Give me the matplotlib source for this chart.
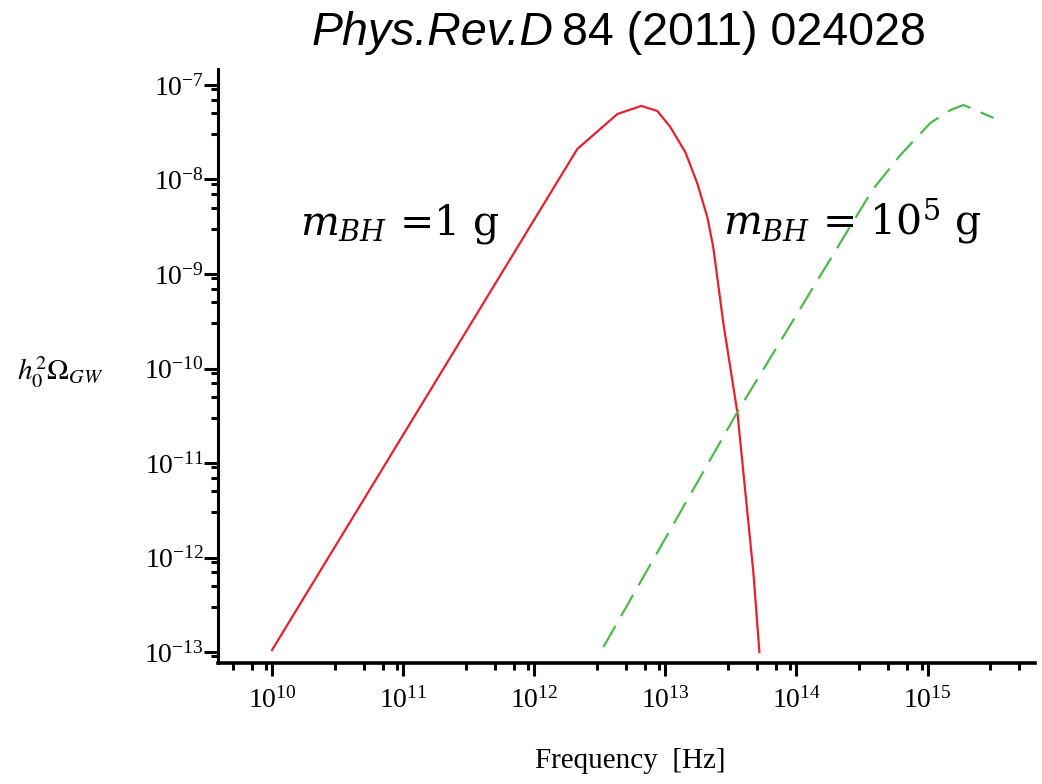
import matplotlib
matplotlib.use('Agg')
import matplotlib.pyplot as plt
import matplotlib.ticker as mticker

# values
freq_1g = [1.0e10, 2.13e12, 4.31e12, 6.56e12, 8.69e12, 1.09e13, 1.42e13, 1.75e13,
           2.09e13, 2.32e13, 2.77e13, 3.55e13, 4.23e13, 4.70e13, 5.22e13]
omega_1g = [1.05e-13, 2.10e-8, 4.93e-8, 6.0e-8, 5.31e-8, 3.60e-8, 1.95e-8, 9.18e-9,
            4.01e-9, 1.93e-9, 3.03e-10, 3.38e-11, 2.96e-12, 6.85e-13, 1.0e-13]

freq_1e5g = [3.37e12, 3.55e13, 3.80e14, 6.22e14, 1.05e15, 1.50e15, 1.88e15, 3.19e15]
omega_1e5g = [1.13e-13, 3.47e-11, 7.74e-9, 1.82e-8, 3.96e-8, 5.43e-8, 6.14e-8, 4.48e-8]

plt.rcParams['font.family'] = ['Liberation Serif', 'DejaVu Serif']
plt.rcParams['mathtext.fontset'] = 'stix'

fig = plt.figure(figsize=(10.42, 7.84), dpi=100)
ax = fig.add_axes([218 / 1042, 1 - 663 / 784, (1035 - 218) / 1042, (663 - 69) / 784])

ax.plot(freq_1g, omega_1g, '-', color='#e8202e', lw=1.6)
ax.plot(freq_1e5g, omega_1e5g, '--', color='#4cbb4c', lw=1.6, dashes=(11, 5))

ax.set_xscale('log')
ax.set_yscale('log')
ax.set_xlim(10 ** 9.588, 10 ** 15.82)
ax.set_ylim(10 ** -13.116, 10 ** -6.831)

ax.spines['top'].set_visible(False)
ax.spines['right'].set_visible(False)
ax.spines['left'].set_linewidth(2.2)
ax.spines['bottom'].set_linewidth(2.6)

ax.xaxis.set_major_locator(mticker.LogLocator(base=10, numticks=20))
ax.yaxis.set_major_locator(mticker.LogLocator(base=10, numticks=20))
ax.xaxis.set_minor_locator(mticker.LogLocator(base=10, subs=(3, 5, 7, 9), numticks=20))
ax.yaxis.set_minor_locator(mticker.LogLocator(base=10, subs=(3, 5, 7, 9), numticks=20))
ax.xaxis.set_minor_formatter(mticker.NullFormatter())
ax.yaxis.set_minor_formatter(mticker.NullFormatter())

ax.tick_params(axis='y', which='major', length=10, width=2.2, labelsize=20, pad=0)
ax.tick_params(axis='y', which='minor', length=5, width=2.2)
ax.tick_params(axis='x', which='major', length=9, width=2.2, labelsize=20, pad=8)
ax.tick_params(axis='x', which='minor', length=5, width=2.2)

fig.text(630 / 1042, 1 - 761 / 784, 'Frequency  [Hz]', fontsize=21, ha='center', va='center')
fig.text(17 / 1042, 1 - 372 / 784, r'$h_0^2\Omega_{GW}$', fontsize=21, va='center', ha='left')

ax.text(1.64e10, 2.6e-9, r'$m_{BH}$ =1 g', fontsize=29.5, family='DejaVu Serif',
        math_fontfamily='dejavuserif')
ax.text(2.77e13, 2.6e-9, r'$m_{BH}$ = $10^5$ g', fontsize=29.5, family='DejaVu Serif',
        math_fontfamily='dejavuserif')

t1 = fig.text(312 / 1042, 1 - 45 / 784, 'Phys.Rev.D', fontsize=33.5, style='italic',
              family='Liberation Sans', va='baseline', ha='left')
ax.annotate('84 (2011) 024028', xy=(1, 0), xycoords=t1, xytext=(6, 0),
            textcoords='offset points', fontsize=33.5, family='Liberation Sans',
            va='bottom', ha='left')

plt.savefig('out.png', dpi=100)
